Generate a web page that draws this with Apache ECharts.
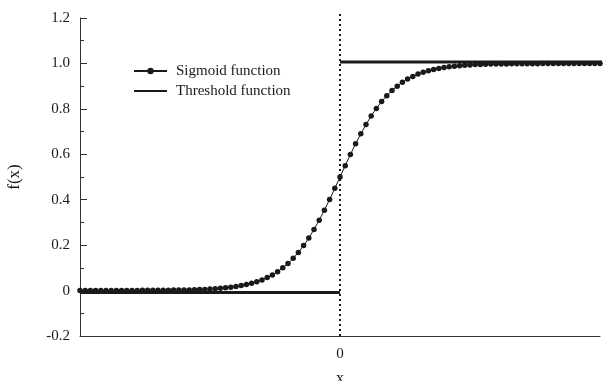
<!DOCTYPE html>
<html>
<head>
<meta charset="utf-8">
<script src="https://cdn.jsdelivr.net/npm/echarts@6/dist/echarts.min.js"></script>
<style>
html,body{margin:0;padding:0;background:#fff;}
#chart{width:613px;height:381px;}
</style>
</head>
<body>
<div id="chart"></div>
<script>
// x positions of the sigmoid samples
const xs = [-10,-9.8,-9.6,-9.4,-9.2,-9,-8.8,-8.6,-8.4,-8.2,-8,-7.8,-7.6,-7.4,-7.2,-7,-6.8,-6.6,-6.4,-6.2,
  -6,-5.8,-5.6,-5.4,-5.2,-5,-4.8,-4.6,-4.4,-4.2,-4,-3.8,-3.6,-3.4,-3.2,-3,-2.8,-2.6,-2.4,-2.2,
  -2,-1.8,-1.6,-1.4,-1.2,-1,-0.8,-0.6,-0.4,-0.2,0,0.2,0.4,0.6,0.8,1,1.2,1.4,1.6,1.8,
  2,2.2,2.4,2.6,2.8,3,3.2,3.4,3.6,3.8,4,4.2,4.4,4.6,4.8,5,5.2,5.4,5.6,5.8,
  6,6.2,6.4,6.6,6.8,7,7.2,7.4,7.6,7.8,8,8.2,8.4,8.6,8.8,9,9.2,9.4,9.6,9.8,10];
// sigmoid values
const sigmoidValues = [0.000,0.000,0.000,0.000,0.000,0.000,0.000,0.000,0.000,0.000,0.000,0.000,0.001,0.001,0.001,0.001,0.001,0.001,0.002,0.002,
  0.002,0.003,0.004,0.005,0.005,0.007,0.008,0.010,0.012,0.015,0.018,0.022,0.027,0.032,0.039,0.047,0.057,0.069,0.083,0.100,
  0.119,0.142,0.168,0.198,0.231,0.269,0.310,0.354,0.401,0.450,0.500,0.550,0.599,0.646,0.690,0.731,0.769,0.802,0.832,0.858,
  0.881,0.900,0.917,0.931,0.943,0.953,0.961,0.968,0.973,0.978,0.982,0.985,0.988,0.990,0.992,0.993,0.995,0.995,0.996,0.997,
  0.998,0.998,0.998,0.999,0.999,0.999,0.999,0.999,0.999,1.000,1.000,1.000,1.000,1.000,1.000,1.000,1.000,1.000,1.000,1.000,1.000];
// threshold function segments
const thresholdLowX = [-10, 0];
const thresholdLowY = [-0.008, -0.008];
const thresholdHighX = [0, 10.5];
const thresholdHighY = [1.006, 1.006];
// vertical dotted line at x = 0
const dividerX = [0, 0];
const dividerY = [-0.2, 1.225];
const yTicks = [-0.2, 0, 0.2, 0.4, 0.6, 0.8, 1.0, 1.2];
const yTickLabels = ['-0.2', '0', '0.2', '0.4', '0.6', '0.8', '1.0', '1.2'];
const xTickLabels = {0: '0'};

const zip = (a, b) => a.map((v, i) => [v, b[i]]);
const font = '"Liberation Serif", "DejaVu Serif", serif';
const ink = '#1a1a1a';

const chart = echarts.init(document.getElementById('chart'), null, {renderer: 'canvas'});
chart.setOption({
  animation: false,
  backgroundColor: '#fff',
  grid: {left: 80, right: 13, top: 18, bottom: 45, containLabel: false, outerBoundsMode: 'none'},
  legend: {
    orient: 'vertical',
    left: 133, top: 63, padding: 0,
    itemWidth: 33, itemHeight: 8, itemGap: 4,
    textStyle: {fontFamily: font, fontSize: 15, color: ink, padding: [0, 0, 0, 4], lineHeight: 16},
    data: [
      {name: 'Sigmoid function', lineStyle: {width: 2, color: ink}},
      {name: 'Threshold function', itemStyle: {color: 'rgba(0,0,0,0)', borderWidth: 0}, lineStyle: {width: 2, color: ink}}
    ]
  },
  xAxis: {
    type: 'value', min: -10, max: 10, interval: 10,
    axisLine: {show: true, onZero: false, lineStyle: {color: '#333', width: 1}},
    axisTick: {show: false},
    splitLine: {show: false},
    axisLabel: {
      fontFamily: font, fontSize: 15, color: ink, margin: 11,
      formatter: v => (xTickLabels[v] !== undefined ? xTickLabels[v] : '')
    },
    name: 'x', nameLocation: 'middle', nameGap: 35,
    nameTextStyle: {fontFamily: font, fontSize: 16, color: ink}
  },
  yAxis: {
    type: 'value', min: -0.2, max: 1.2, interval: 0.2,
    axisLine: {show: true, onZero: false, lineStyle: {color: '#333', width: 1}},
    axisTick: {show: true, inside: true, length: 7, lineStyle: {color: '#333'}},
    minorTick: {show: true, splitNumber: 2, length: 4, lineStyle: {color: '#333'}},
    splitLine: {show: false},
    axisLabel: {
      fontFamily: font, fontSize: 15, color: ink, margin: 10,
      formatter: v => {
        const i = yTicks.findIndex(t => Math.abs(t - v) < 1e-6);
        return i >= 0 ? yTickLabels[i] : '';
      }
    },
    name: 'f(x)', nameLocation: 'middle', nameGap: 57, nameRotate: 90,
    nameTextStyle: {fontFamily: font, fontSize: 17, color: ink, padding: [0, 0, 0, 0]}
  },
  series: [
    {
      name: 'Threshold function', type: 'line', clip: false,
      data: zip(thresholdLowX, thresholdLowY),
      symbol: 'none',
      lineStyle: {color: ink, width: 3},
      itemStyle: {color: ink},
      z: 3
    },
    {
      name: 'Threshold function', type: 'line', clip: false,
      data: zip(thresholdHighX, thresholdHighY),
      symbol: 'none',
      lineStyle: {color: ink, width: 3},
      itemStyle: {color: ink},
      z: 3
    },
    {
      name: 'Sigmoid function', type: 'line',
      data: zip(xs, sigmoidValues),
      symbol: 'circle', symbolSize: 5.5, showAllSymbol: true,
      lineStyle: {color: ink, width: 1},
      itemStyle: {color: ink},
      z: 4
    },
    {
      name: 'divider', type: 'line', clip: false,
      data: zip(dividerX, dividerY),
      symbol: 'none', silent: true,
      lineStyle: {color: ink, width: 2, type: [2, 3]},
      z: 2
    }
  ]
});
</script>
</body>
</html>
